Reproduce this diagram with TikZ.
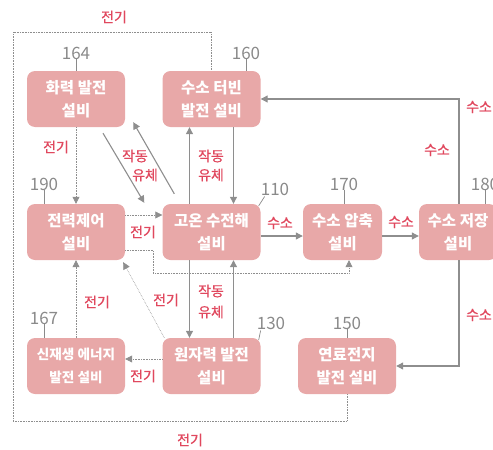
\documentclass[tikz,border=0pt]{standalone}
\usepackage{fontspec}
\setmainfont{Noto Sans CJK KR}
\newfontfamily\krlbl[FakeBold=0.7]{Noto Sans CJK KR}
\usetikzlibrary{arrows.meta}
\definecolor{boxfill}{HTML}{E8A8A8}
\definecolor{lblred}{HTML}{E0485E}
\definecolor{linegray}{HTML}{8E8E8E}
\definecolor{numgray}{HTML}{8A8A8A}
\begin{document}
\begin{tikzpicture}[x=1pt,y=-1pt,
  box/.style={fill=boxfill, rounded corners=8pt, minimum width=98pt, minimum height=56pt,
    text=white, font=\bfseries\fontsize{15.5}{23}\selectfont, align=center, inner sep=0pt},
  lbl/.style={text=lblred, font=\krlbl\fontsize{14}{18}\selectfont, inner sep=0pt},
  num/.style={text=numgray, font=\fontsize{17}{20}\selectfont, inner sep=0pt},
  flow/.style={draw=linegray, line width=1.1pt, -{Triangle[length=7pt,width=7pt]}},
  elec/.style={draw=linegray, line width=0.6pt, densely dotted, -{Triangle[length=7pt,width=7pt]}},
  ring/.style={draw=linegray, line width=0.6pt, densely dotted},
  leader/.style={draw=numgray, line width=0.7pt}]
\useasboundingbox (0,0) rectangle (493,450);

% boxes
\node[box] (hw) at (76,99) {화력 발전\\설비};
\node[box] (ht) at (211.5,99) {수소 터빈\\발전 설비};
\node[box] (pc) at (76,232) {전력제어\\설비};
\node[box] (el) at (211.5,232) {고온 수전해\\설비};
\node[box, minimum width=79pt] (cp) at (342.5,232) {수소 압축\\설비};
\node[box, minimum width=78pt] (st) at (458,232) {수소 저장\\설비};
\node[box, font=\bfseries\fontsize{13.6}{23}\selectfont] (re) at (76,366) {신재생 에너지\\발전 설비};
\node[box] (nu) at (211.5,366) {원자력 발전\\설비};
\node[box] (fc) at (347,366) {연료전지\\발전 설비};

% reference numbers
\node[num] (n164) at (76,53) {164};
\node[num] (n160) at (246,53) {160};
\node[num] (n190) at (44,184) {190};
\node[num] (n110) at (275,189) {110};
\node[num] (n170) at (344,184) {170};
\node[num] (n180) at (485,184) {180};
\node[num] (n167) at (44,318) {167};
\node[num] (n130) at (271,323) {130};
\node[num] (n150) at (347,323) {150};
\draw[leader] (n164.south) -- (hw.north);
\draw[leader] (n160.south) -- (n160.south |- ht.north);
\draw[leader] (n190.south) -- (n190.south |- pc.north);
\draw[leader] ([shift={(4,1)}]n110.south west) -- ([shift={(-2,2)}]el.north east);
\draw[leader] (n170.south) -- (n170.south |- cp.north);
\draw[leader] (n180.south) -- (n180.south |- st.north);
\draw[leader] (n167.south) -- (n167.south |- re.north);
\draw[leader] ([shift={(4,1)}]n130.south west) -- ([shift={(-2,2)}]nu.north east);
\draw[leader] (n150.south) -- (fc.north);

% outer electricity loop
\coordinate (r1) at (347,421);
\coordinate (r2) at (13,421);
\coordinate (r3) at (13,32);
\coordinate (r4) at (211.5,32);
\draw[ring] (fc.south) -- (r1) -- (r2) -- (r3) -- (r4) -- (ht.north);
\node[lbl] at (114,17) {전기};
\node[lbl] at (190,440) {전기};

% thermal -> power control
\draw[elec] (hw.south) -- (pc.north);
\node[lbl] at (56,147) {전기};

% thermal <-> electrolysis
\draw[flow] ([shift={(27,6)}]hw.south) -- ([shift={(-18,-1)}]el.north west);
\draw[flow] ([shift={(12,-10)}]el.north west) -- ([shift={(8,-5)}]hw.south east);
\node[lbl] at (135,156) {작동};
\node[lbl] at (145,175) {유체};

% turbine <-> electrolysis
\draw[flow] ([xshift=-22pt]el.north) -- ([xshift=-22pt]ht.south);
\draw[flow] ([xshift=22pt]ht.south) -- ([xshift=22pt]el.north);
\node[lbl] at (211,156) {작동};
\node[lbl] at (211,175) {유체};

% power control -> electrolysis / compression
\draw[elec] ([shift={(0,-17)}]pc.east) -- ([shift={(0,-17)}]el.west);
\coordinate (c1) at (153,250);
\coordinate (c2) at (153,273);
\coordinate (c3) at (349,273);
\draw[elec] ([shift={(0,18)}]pc.east) -- (c1) -- (c2) -- (c3) -- (c3 |- cp.south);
\node[lbl] at (143,232) {전기};

% hydrogen chain
\draw[flow] ([shift={(0,4)}]el.east) -- ([shift={(0,4)}]cp.west);
\node[lbl] at (280,223) {수소};
\draw[flow] ([shift={(0,4)}]cp.east) -- ([shift={(0,4)}]st.west);
\node[lbl] at (401,222) {수소};

% storage -> turbine
\coordinate (s1) at (459,99);
\draw[flow] (st.north -| s1) -- (s1) -- (ht.east);
\node[lbl] at (479,107) {수소};
\node[lbl] at (437,150) {수소};

% storage -> fuel cell
\coordinate (s2) at (459,366);
\draw[flow] (st.south -| s2) -- (s2) -- (fc.east);
\node[lbl] at (479,315) {수소};

% electrolysis <-> nuclear
\draw[flow] ([xshift=-22pt]el.south) -- ([xshift=-22pt]nu.north);
\draw[flow] ([xshift=22pt]nu.north) -- ([xshift=22pt]el.south);
\node[lbl] at (211,291) {작동};
\node[lbl] at (211,312) {유체};

% nuclear -> power control
\draw[elec] ([shift={(2,0)}]nu.north west) -- ([shift={(-2,2)}]pc.south east);
\node[lbl] at (166,300) {전기};

% renewable -> power control
\draw[elec] (re.north) -- (pc.south);
\node[lbl] at (97,302) {전기};

% nuclear -> renewable
\draw[elec] ([shift={(0,-7)}]nu.west) -- ([shift={(0,-7)}]re.east);
\node[lbl] at (143,376) {전기};
\end{tikzpicture}
\end{document}
